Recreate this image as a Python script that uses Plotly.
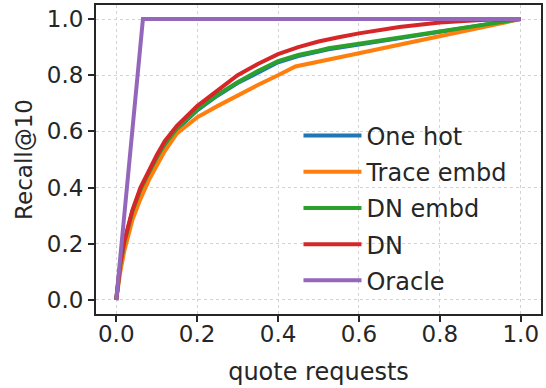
import plotly.graph_objects as go

# ---- data ----
series_names = ["One hot", "Trace embd", "DN embd", "DN", "Oracle"]
series_colors = ["#1f77b4", "#ff7f0e", "#2ca02c", "#d62728", "#9467bd"]

x_onehot = [0, 0.005, 0.01, 0.02, 0.03, 0.04, 0.06, 0.08, 0.10, 0.12, 0.15, 0.20, 0.25, 0.30, 0.35, 0.40, 0.45, 0.50, 0.525, 0.60, 0.70, 0.80, 0.90, 1.0]
y_onehot = [0, 0.063, 0.122, 0.202, 0.262, 0.312, 0.392, 0.452, 0.505, 0.552, 0.607, 0.675, 0.727, 0.772, 0.811, 0.846, 0.868, 0.884, 0.892, 0.909, 0.931, 0.954, 0.977, 1.0]

x_trace = [0, 0.005, 0.01, 0.02, 0.03, 0.04, 0.06, 0.08, 0.10, 0.12, 0.15, 0.20, 0.25, 0.30, 0.35, 0.40, 0.443, 0.60, 0.80, 1.0]
y_trace = [0, 0.05, 0.10, 0.175, 0.235, 0.285, 0.36, 0.425, 0.478, 0.53, 0.593, 0.65, 0.69, 0.728, 0.765, 0.80, 0.831, 0.878, 0.938, 1.0]

x_dnembd = [0, 0.005, 0.01, 0.02, 0.03, 0.04, 0.06, 0.08, 0.10, 0.12, 0.15, 0.20, 0.25, 0.30, 0.35, 0.40, 0.45, 0.50, 0.525, 0.60, 0.70, 0.80, 0.90, 1.0]
y_dnembd = [0, 0.065, 0.125, 0.205, 0.265, 0.315, 0.395, 0.455, 0.508, 0.555, 0.61, 0.678, 0.73, 0.775, 0.815, 0.85, 0.872, 0.887, 0.896, 0.912, 0.934, 0.956, 0.978, 1.0]

x_dn = [0, 0.005, 0.01, 0.02, 0.03, 0.04, 0.06, 0.08, 0.10, 0.12, 0.15, 0.20, 0.25, 0.30, 0.35, 0.40, 0.45, 0.50, 0.55, 0.60, 0.70, 0.80, 0.90, 1.0]
y_dn = [0, 0.07, 0.13, 0.21, 0.27, 0.32, 0.40, 0.46, 0.515, 0.565, 0.62, 0.69, 0.745, 0.80, 0.84, 0.875, 0.90, 0.92, 0.935, 0.949, 0.972, 0.988, 0.997, 1.0]

x_oracle = [0, 0.066, 1.0]
y_oracle = [0, 1.0, 1.0]

tick_vals = [0.0, 0.2, 0.4, 0.6, 0.8, 1.0]
tick_text = ["0.0", "0.2", "0.4", "0.6", "0.8", "1.0"]
x_label = "quote requests"
y_label = "Recall@10"

xs = [x_onehot, x_trace, x_dnembd, x_dn, x_oracle]
ys = [y_onehot, y_trace, y_dnembd, y_dn, y_oracle]

FONT = "DejaVu Sans"
TXT = "#262626"

fig = go.Figure()
for name, color, xv, yv in zip(series_names, series_colors, xs, ys):
    fig.add_trace(go.Scatter(
        x=xv, y=yv, mode="lines", name=name, legendgroup=name,
        line=dict(color=color, width=4),
    ))

axis_common = dict(
    tickvals=tick_vals, ticktext=tick_text,
    showline=True, mirror=True, linecolor=TXT, linewidth=2,
    ticks="outside", ticklen=6, tickwidth=1.5, tickcolor=TXT,
    showgrid=True, gridcolor="#d3d3d3", gridwidth=1, griddash="dot",
    zeroline=False,
    tickfont=dict(family=FONT, size=23, color=TXT),
)

fig.update_layout(
    width=546, height=388,
    margin=dict(l=96, r=4, t=3, b=74),
    paper_bgcolor="white", plot_bgcolor="white",
    font=dict(family=FONT, color=TXT),
    xaxis=dict(range=[-0.05, 1.05], ticklabelstandoff=-8,
               title=dict(text=x_label, font=dict(family=FONT, size=24, color=TXT), standoff=18),
               **axis_common),
    yaxis=dict(range=[-0.05, 1.05],
               title=dict(text=y_label, font=dict(family=FONT, size=23, color=TXT), standoff=8),
               **axis_common),
    legend=dict(
        x=0.455, y=0.649, xanchor="left", yanchor="top",
        bgcolor="rgba(255,255,255,0)", borderwidth=0,
        font=dict(family=FONT, size=24, color=TXT),
        itemwidth=58, tracegroupgap=2, traceorder="grouped",
    ),
    showlegend=True,
)

fig.write_html("out.html")
